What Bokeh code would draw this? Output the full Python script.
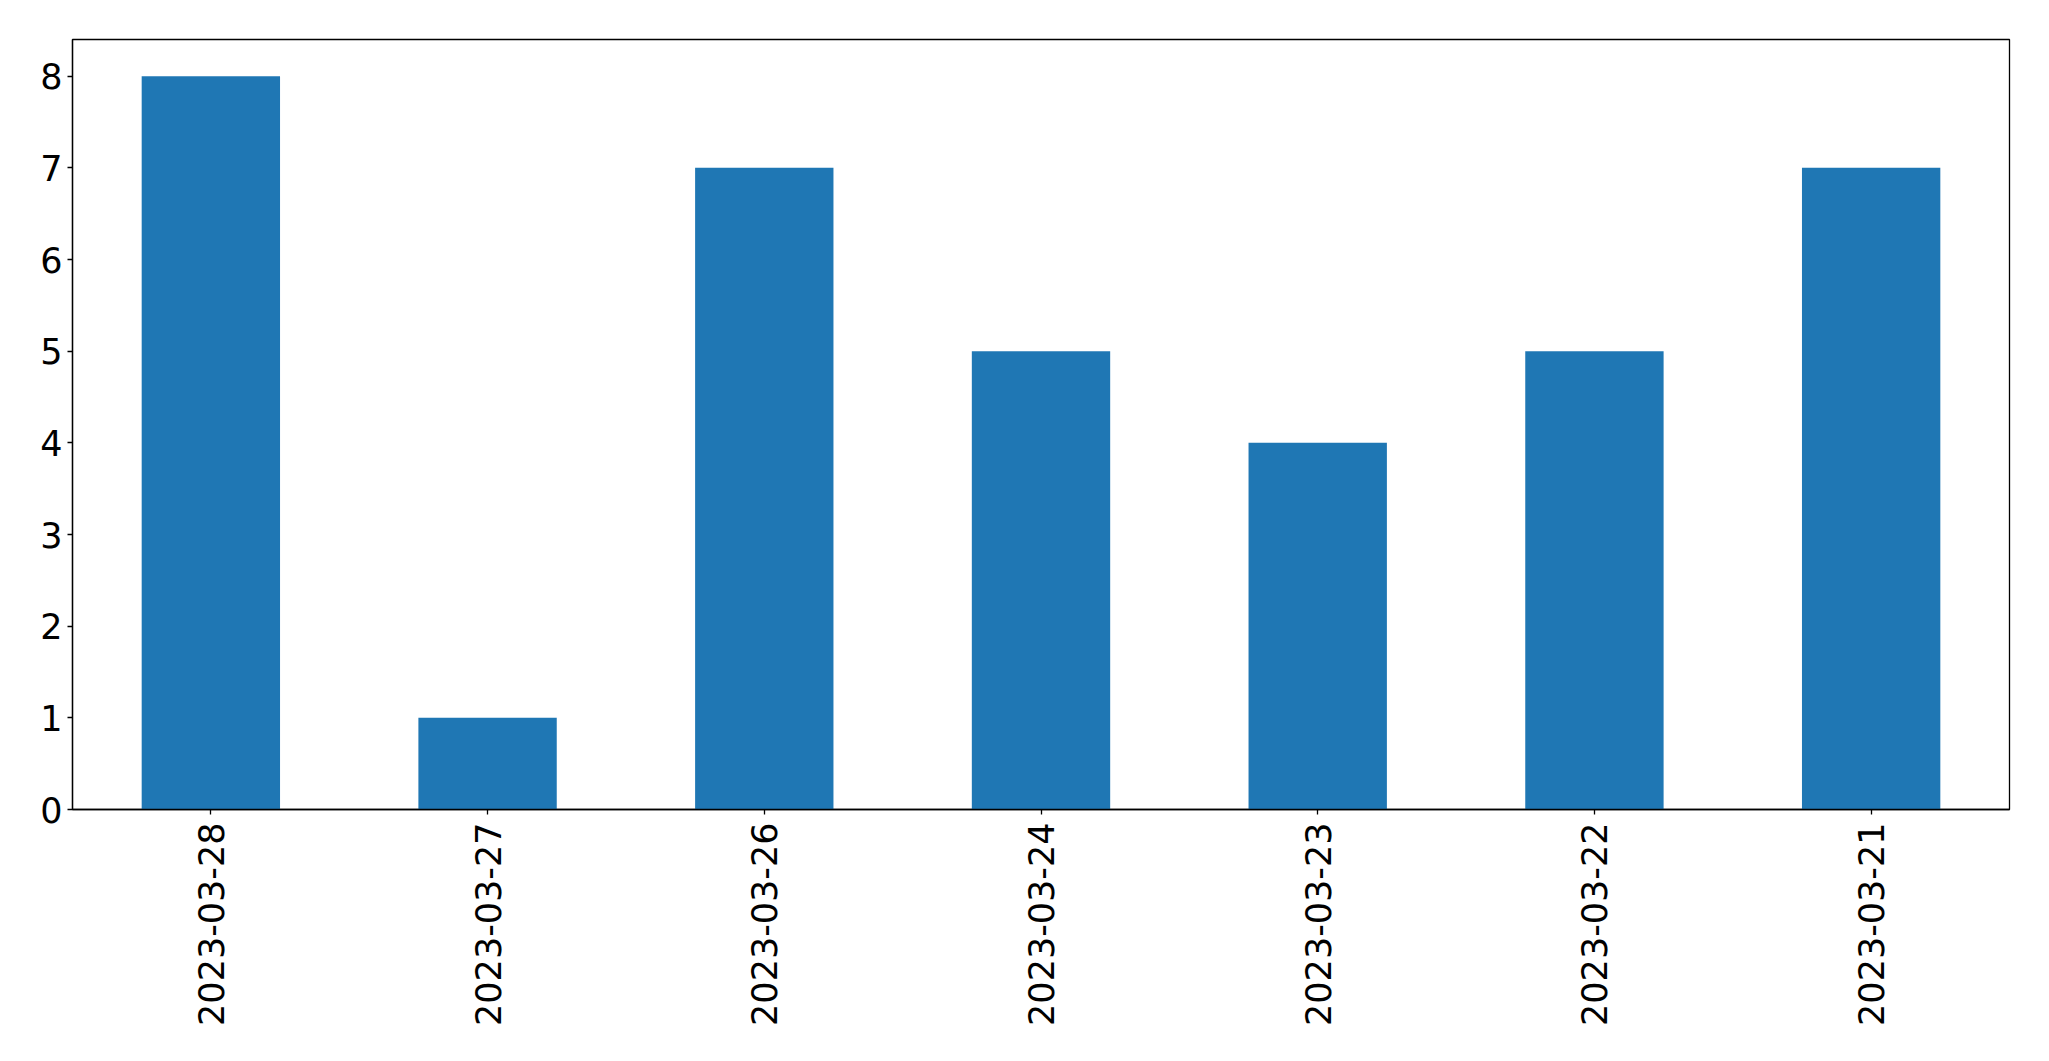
import math
from bokeh.plotting import figure
from bokeh.models import ColumnDataSource, FactorRange, Range1d, FixedTicker
from bokeh.embed import file_html
from bokeh.resources import INLINE

dates = ["2023-03-28", "2023-03-27", "2023-03-26", "2023-03-24",
         "2023-03-23", "2023-03-22", "2023-03-21"]
counts = [8, 1, 7, 5, 4, 5, 7]
y_ticks = [0, 1, 2, 3, 4, 5, 6, 7, 8]

source = ColumnDataSource(data=dict(dates=dates, counts=counts))

p = figure(
    width=2041, height=1053,
    x_range=FactorRange(factors=dates, range_padding=0),
    y_range=Range1d(0, 8.4),
    output_backend="svg", toolbar_location=None,
    min_border_left=72, min_border_right=32,
    min_border_top=39, min_border_bottom=244,
)
p.vbar(x="dates", top="counts", width=0.5, source=source,
       fill_color="#1f77b4", line_color=None)

p.xgrid.grid_line_color = None
p.ygrid.grid_line_color = None
p.outline_line_color = "black"
p.outline_line_width = 1.3
p.background_fill_color = "white"
p.border_fill_color = "white"

for ax in (p.xaxis[0], p.yaxis[0]):
    ax.axis_line_color = "black"
    ax.axis_line_width = 1.3
    ax.major_tick_line_color = "black"
    ax.major_tick_line_width = 1.3
    ax.major_tick_out = 5
    ax.major_tick_in = 0
    ax.minor_tick_line_color = None
    ax.major_label_text_font = "DejaVu Sans"
    ax.major_label_text_font_size = "35px"
    ax.major_label_text_color = "black"

p.yaxis.ticker = FixedTicker(ticks=y_ticks)
p.yaxis.major_label_standoff = 5
p.xaxis.major_label_orientation = math.pi / 2
p.xaxis.major_label_standoff = 8

open("out.html", "w").write(file_html(p, INLINE))
